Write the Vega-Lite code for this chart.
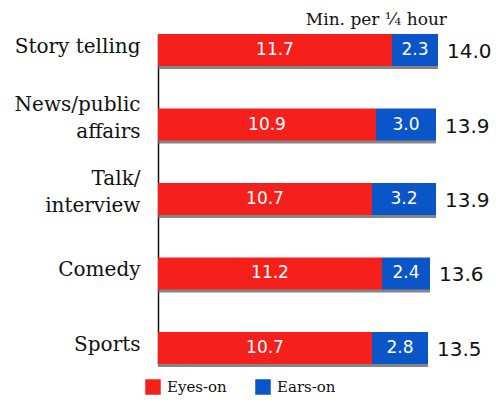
{
  "$schema": "https://vega.github.io/schema/vega-lite/v6.json",
  "width": 280,
  "height": 330,
  "autosize": "none",
  "padding": {"left": 158, "top": 34, "right": 58, "bottom": 45},
  "background": "white",
  "config": {"view": {"stroke": null}},
  "title": {
    "text": "Min. per ¼ hour",
    "anchor": "end",
    "frame": "group",
    "dx": 9,
    "offset": 5,
    "font": "DejaVu Serif",
    "fontSize": 17,
    "fontWeight": "normal",
    "color": "#111"
  },
  "datasets": {
    "segments": [
      {"genre": "Story telling", "type": "Eyes-on", "ord": 1, "value": 11.7},
      {"genre": "Story telling", "type": "Ears-on", "ord": 2, "value": 2.3},
      {"genre": "News/public|affairs", "type": "Eyes-on", "ord": 1, "value": 10.9},
      {"genre": "News/public|affairs", "type": "Ears-on", "ord": 2, "value": 3.0},
      {"genre": "Talk/|interview", "type": "Eyes-on", "ord": 1, "value": 10.7},
      {"genre": "Talk/|interview", "type": "Ears-on", "ord": 2, "value": 3.2},
      {"genre": "Comedy", "type": "Eyes-on", "ord": 1, "value": 11.2},
      {"genre": "Comedy", "type": "Ears-on", "ord": 2, "value": 2.4},
      {"genre": "Sports", "type": "Eyes-on", "ord": 1, "value": 10.7},
      {"genre": "Sports", "type": "Ears-on", "ord": 2, "value": 2.8}
    ],
    "totals": [
      {"genre": "Story telling", "total": 14.0},
      {"genre": "News/public|affairs", "total": 13.9},
      {"genre": "Talk/|interview", "total": 13.9},
      {"genre": "Comedy", "total": 13.6},
      {"genre": "Sports", "total": 13.5}
    ]
  },
  "encoding": {
    "y": {
      "field": "genre",
      "type": "nominal",
      "sort": ["Story telling", "News/public|affairs", "Talk/|interview", "Comedy", "Sports"],
      "scale": {"paddingInner": 0.57, "paddingOuter": 0},
      "axis": {
        "title": null,
        "ticks": false,
        "domain": true,
        "domainColor": "#111",
        "domainWidth": 1.5,
        "labelExpr": "split(datum.label, '|')",
        "labelFont": "DejaVu Serif",
        "labelFontSize": 20,
        "labelColor": "#111",
        "labelPadding": 18,
        "labelLineHeight": 27,
        "labelLimit": 200,
        "labelOffset": {"condition": {"test": "indexof(datum.value, '|') >= 0", "value": -20}, "value": -3}
      }
    }
  },
  "layer": [
    {
      "data": {"name": "totals"},
      "mark": {"type": "bar", "color": "#666", "yOffset": 3, "opacity": 0.8},
      "encoding": {
        "x": {"field": "total", "type": "quantitative", "scale": {"domain": [0, 14], "nice": false}, "axis": null}
      }
    },
    {
      "data": {"name": "segments"},
      "mark": {"type": "bar"},
      "encoding": {
        "x": {"field": "value", "type": "quantitative", "stack": "zero", "scale": {"domain": [0, 14], "nice": false}, "axis": null},
        "order": {"field": "ord"},
        "color": {
          "field": "type",
          "type": "nominal",
          "scale": {"domain": ["Eyes-on", "Ears-on"], "range": ["#f5201c", "#0a55c8"]},
          "legend": {
            "title": null,
            "orient": "none",
            "direction": "horizontal",
            "legendX": -13,
            "legendY": 345,
            "symbolType": "square",
            "symbolSize": 240,
            "symbolOpacity": 1,
            "symbolStrokeWidth": 0,
            "labelFont": "DejaVu Serif",
            "labelFontSize": 15,
            "labelColor": "#111",
            "labelOffset": 6,
            "columnPadding": 28
          }
        }
      }
    },
    {
      "data": {"name": "segments"},
      "transform": [
        {"stack": "value", "groupby": ["genre"], "sort": [{"field": "ord"}], "as": ["v0", "v1"]},
        {"calculate": "(datum.v0 + datum.v1) / 2", "as": "mid"}
      ],
      "mark": {"type": "text", "color": "white", "font": "DejaVu Sans", "fontSize": 17, "align": "center", "baseline": "middle"},
      "encoding": {
        "x": {"field": "mid", "type": "quantitative"},
        "text": {"field": "value", "type": "quantitative", "format": ".1f"}
      }
    },
    {
      "data": {"name": "totals"},
      "mark": {"type": "text", "color": "#111", "font": "DejaVu Sans", "fontSize": 20, "align": "left", "baseline": "middle", "dx": 9, "dy": 2},
      "encoding": {
        "x": {"field": "total", "type": "quantitative"},
        "text": {"field": "total", "type": "quantitative", "format": ".1f"}
      }
    }
  ]
}
